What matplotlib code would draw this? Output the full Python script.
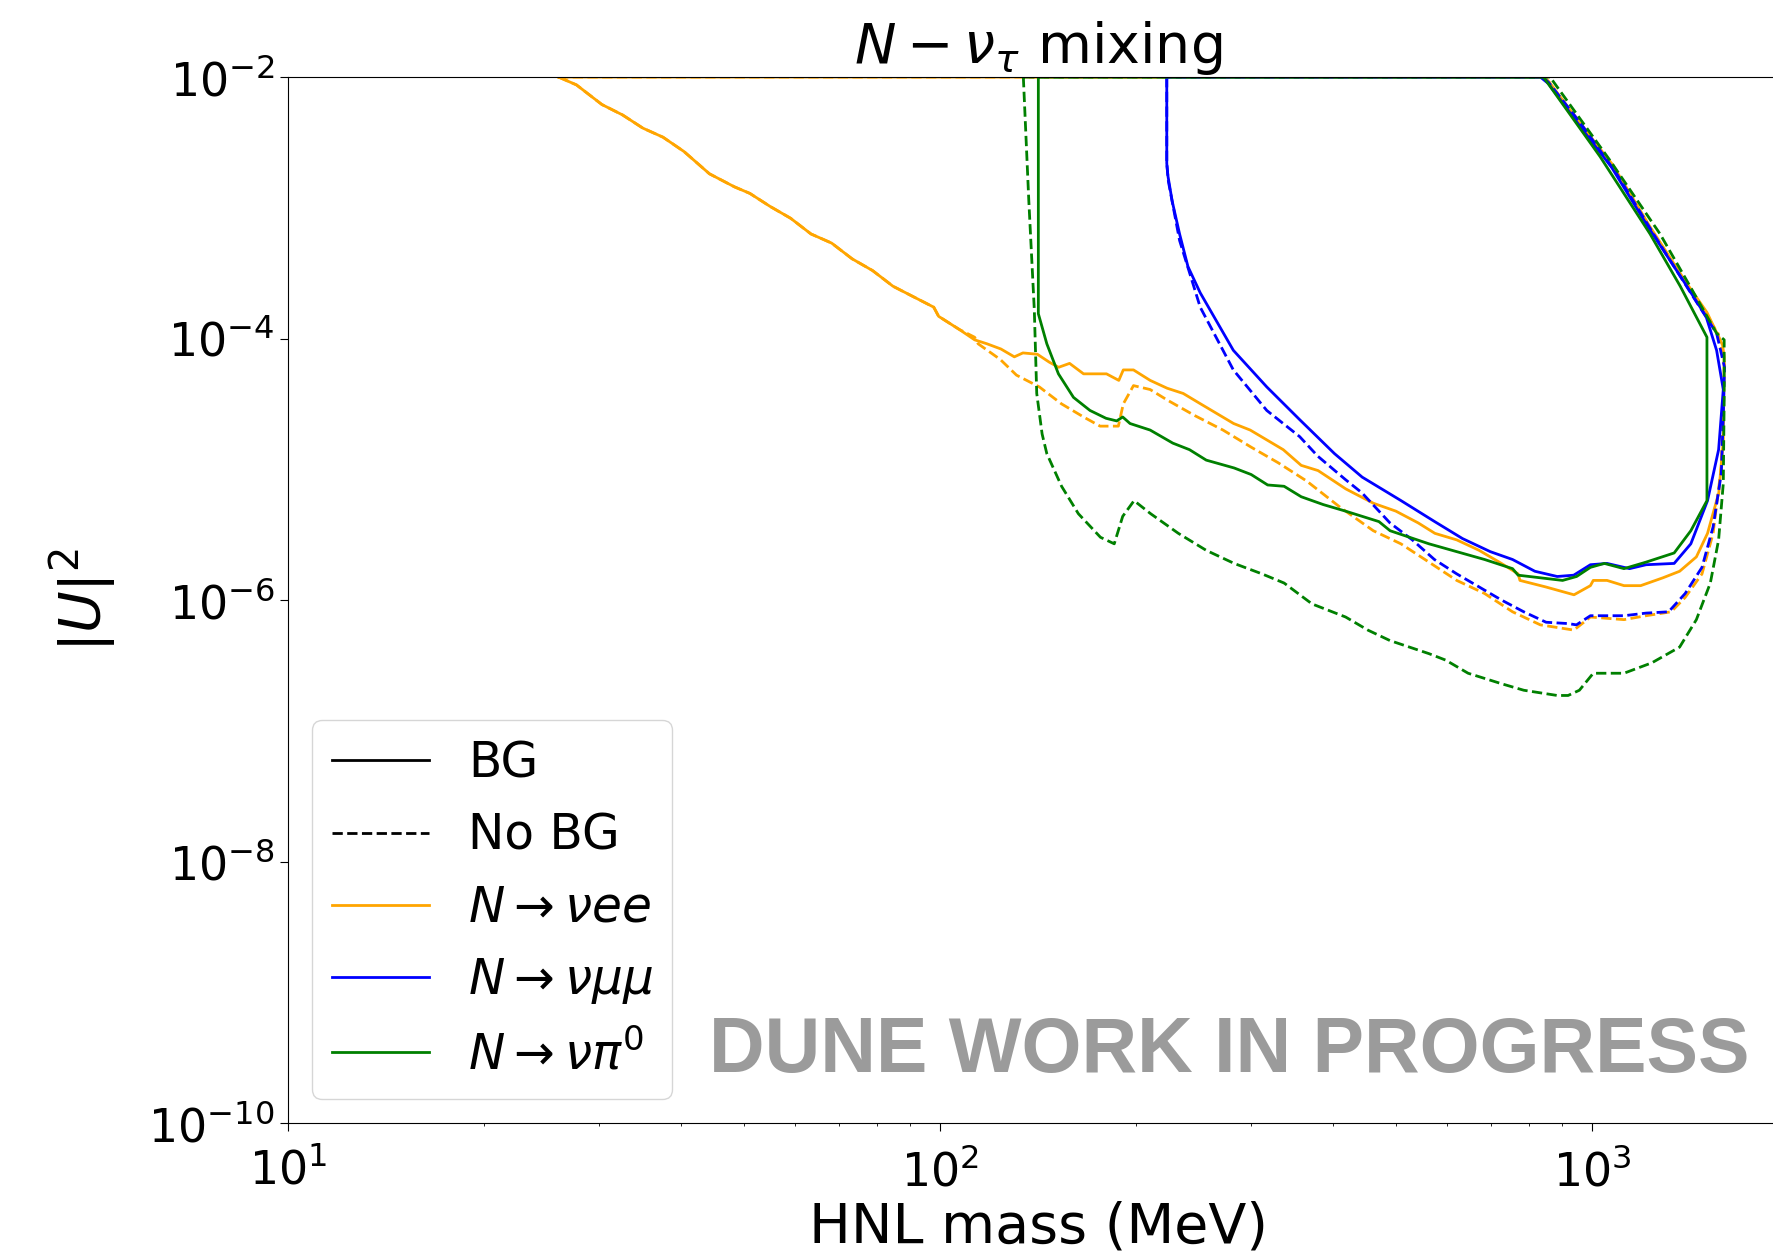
import numpy as np
import matplotlib
matplotlib.use("Agg")
import matplotlib.pyplot as plt
from matplotlib.lines import Line2D
from matplotlib.ticker import NullLocator

# Sensitivity contours for N - nu_tau mixing.
# Mass in MeV, coupling stored as log10 |U|^2; each contour is closed along |U|^2 = 1e-2.

# N -> nu e e, with background
vee_bg_mass = [26.0, 27.7, 30.3, 32.6, 35.0, 37.6, 40.5, 44.3, 48.4, 51.1, 54.9, 59.0, 63.4,
               68.2, 73.3, 78.8, 84.7, 91.0, 97.8, 99.5, 107, 113, 118, 124, 130, 134, 141,
               147, 152, 158, 166, 180, 188, 191, 198, 210, 223, 236, 251, 282, 299, 336,
               358, 380, 419, 462, 500, 541, 574, 620, 671, 726, 770, 775, 849, 938, 994,
               1004, 1054, 1119, 1187, 1284, 1362, 1445, 1503, 1564, 1589, 1594, 1585, 1500,
               1389, 1225, 1075, 960, 860, 845, 26.0]
vee_bg_logu2 = [-2.0, -2.06, -2.21, -2.29, -2.39, -2.46, -2.57, -2.74, -2.84, -2.89, -2.99,
                -3.08, -3.20, -3.27, -3.39, -3.48, -3.60, -3.68, -3.76, -3.83, -3.93, -4.01,
                -4.04, -4.08, -4.14, -4.11, -4.12, -4.18, -4.22, -4.19, -4.27, -4.27, -4.32,
                -4.24, -4.24, -4.32, -4.38, -4.42, -4.50, -4.65, -4.70, -4.85, -4.97, -5.01,
                -5.15, -5.26, -5.32, -5.41, -5.49, -5.54, -5.62, -5.72, -5.80, -5.85, -5.90,
                -5.96, -5.89, -5.85, -5.85, -5.89, -5.89, -5.83, -5.78, -5.67, -5.49, -5.18,
                -4.78, -4.14, -4.05, -3.80, -3.56, -3.14, -2.67, -2.36, -2.04, -2.0, -2.0]

# N -> nu e e, no background
vee_nobg_mass = [26.0, 27.7, 30.3, 32.6, 35.0, 37.6, 40.5, 44.3, 48.4, 51.1, 54.9, 59.0, 63.4,
                 68.2, 73.3, 78.8, 84.7, 91.0, 97.8, 99.5, 107, 113, 114.4, 123.7, 131, 142,
                 153.6, 166, 176, 187.7, 191, 198, 210, 223, 246, 271.6, 299.8, 330, 365,
                 410.6, 461.8, 509, 562, 620, 684, 755, 833, 937.6, 994, 1119, 1210, 1322,
                 1389, 1474, 1533, 1578, 1589, 1596, 1560, 1441, 1242, 1091, 959, 857, 845,
                 26.0]
vee_nobg_logu2 = [-2.0, -2.06, -2.21, -2.29, -2.39, -2.46, -2.57, -2.74, -2.84, -2.89, -2.99,
                  -3.08, -3.20, -3.27, -3.39, -3.48, -3.60, -3.68, -3.76, -3.83, -3.93, -3.99,
                  -4.04, -4.16, -4.28, -4.37, -4.50, -4.60, -4.67, -4.67, -4.50, -4.36, -4.39,
                  -4.47, -4.59, -4.70, -4.83, -4.95, -5.09, -5.29, -5.47, -5.57, -5.71, -5.85,
                  -5.95, -6.09, -6.19, -6.23, -6.13, -6.15, -6.12, -6.09, -5.98, -5.80, -5.49,
                  -4.98, -4.47, -4.20, -3.96, -3.70, -3.20, -2.74, -2.35, -2.04, -2.0, -2.0]

# N -> nu mu mu, with background
vmumu_bg_mass = [222.7, 222.7, 223.5, 227, 233, 240, 250.6, 281.7, 317, 356, 402.6, 444, 509.4,
                 573.5, 632.8, 698, 755, 817, 884, 937, 994, 1054, 1141, 1210, 1336, 1417,
                 1503, 1563, 1589, 1552, 1495, 1389, 1220, 1071, 959, 857, 833, 222.7]
vmumu_bg_logu2 = [-2.0, -2.66, -2.75, -2.95, -3.20, -3.45, -3.65, -4.09, -4.37, -4.62, -4.88,
                  -5.06, -5.24, -5.40, -5.53, -5.63, -5.69, -5.78, -5.82, -5.81, -5.73, -5.72,
                  -5.76, -5.73, -5.72, -5.57, -5.24, -4.85, -4.39, -4.09, -3.83, -3.58, -3.15,
                  -2.69, -2.38, -2.05, -2.0, -2.0]

# N -> nu mu mu, no background
vmumu_nobg_mass = [222.7, 222.7, 224, 233, 250.6, 281.7, 317, 356, 379.6, 418.8, 443.6, 489.7,
                   530, 573, 620, 671, 726, 785.5, 850, 918.7, 946, 994, 1119, 1210, 1310, 1389,
                   1474, 1533, 1578, 1589, 1596, 1552, 1441, 1242, 1091, 959, 857, 840, 222.7]
vmumu_nobg_logu2 = [-2.0, -2.66, -2.80, -3.25, -3.76, -4.24, -4.55, -4.75, -4.90, -5.08, -5.18,
                    -5.41, -5.54, -5.69, -5.80, -5.90, -6.00, -6.09, -6.17, -6.18, -6.19, -6.12,
                    -6.12, -6.10, -6.09, -5.95, -5.75, -5.44, -5.03, -4.60, -4.22, -3.96, -3.71,
                    -3.20, -2.74, -2.35, -2.04, -2.0, -2.0]

# N -> nu pi0, with background
vpi0_bg_mass = [141.5, 141.5, 145.8, 151.9, 160.2, 169.8, 179.7, 186.6, 190.6, 195.6, 210, 227.5,
                241.3, 256, 282.5, 300, 318, 337, 358, 387, 418.6, 471, 490, 562, 620, 684,
                755, 770, 833, 901, 946.7, 994, 1044, 1119, 1210, 1336, 1417, 1500, 1500,
                1365, 1227, 1029, 842, 141.5]
vpi0_bg_logu2 = [-2.0, -3.81, -4.04, -4.27, -4.45, -4.55, -4.61, -4.63, -4.60, -4.65, -4.70,
                 -4.80, -4.85, -4.93, -4.99, -5.04, -5.12, -5.13, -5.21, -5.27, -5.32, -5.40,
                 -5.47, -5.57, -5.63, -5.69, -5.76, -5.81, -5.83, -5.85, -5.82, -5.75, -5.72,
                 -5.76, -5.71, -5.64, -5.47, -5.24, -3.99, -3.60, -3.20, -2.61, -2.0, -2.0]

# N -> nu pi0, no background
vpi0_nobg_mass = [134.2, 136.8, 139.5, 140.7, 143.4, 145.8, 153.6, 163, 176.2, 185, 190.6, 198.4,
                  210.4, 232, 256, 282.5, 311.7, 337, 372, 418.8, 453, 489.7, 562, 596.5, 645.4,
                  726, 785.5, 884, 918.7, 956, 1004, 1119, 1235, 1362, 1445, 1518, 1563, 1589,
                  1594, 1594, 1552, 1413, 1271, 1066, 862, 134.2]
vpi0_nobg_logu2 = [-2.0, -2.94, -3.78, -4.42, -4.73, -4.88, -5.13, -5.34, -5.52, -5.57, -5.36,
                   -5.24, -5.34, -5.49, -5.62, -5.72, -5.80, -5.87, -6.03, -6.13, -6.23, -6.31,
                   -6.41, -6.46, -6.56, -6.64, -6.69, -6.73, -6.73, -6.69, -6.56, -6.56, -6.48,
                   -6.36, -6.15, -5.87, -5.54, -5.11, -4.47, -4.01, -3.96, -3.60, -3.20, -2.64,
                   -2.0, -2.0]

curves = [
    (vee_bg_mass, vee_bg_logu2, "orange", "-"),
    (vee_nobg_mass, vee_nobg_logu2, "orange", "--"),
    (vmumu_bg_mass, vmumu_bg_logu2, "blue", "-"),
    (vmumu_nobg_mass, vmumu_nobg_logu2, "blue", "--"),
    (vpi0_bg_mass, vpi0_bg_logu2, "green", "-"),
    (vpi0_nobg_mass, vpi0_nobg_logu2, "green", "--"),
]

fig = plt.figure(figsize=(17.73, 12.57), dpi=100)
ax = fig.add_axes([0.1624, 0.1066, 0.8463, 0.8321])

for mass, logu2, color, ls in curves:
    ax.plot(mass, 10 ** np.array(logu2), color=color, ls=ls, lw=2)

ax.set_xscale("log")
ax.set_yscale("log")
ax.set_xlim(10, 2000)
ax.set_ylim(1e-10, 1e-2)
ax.set_yticks([1e-10, 1e-8, 1e-6, 1e-4, 1e-2])
ax.yaxis.set_minor_locator(NullLocator())
ax.tick_params(labelsize=33)
ax.tick_params(axis="x", which="major", length=6, pad=13)
ax.tick_params(axis="y", which="major", length=6)

ax.set_title(r"$N-\nu_\tau$ mixing", fontsize=40)
ax.set_xlabel("HNL mass (MeV)", fontsize=40)
ax.set_ylabel(r"$|U|^2$", fontsize=41)
ax.yaxis.set_label_coords(-0.113, 0.5)

handles = [
    Line2D([], [], color="k", ls="-", lw=2),
    Line2D([], [], color="k", ls="--", lw=2),
    Line2D([], [], color="orange", lw=2),
    Line2D([], [], color="blue", lw=2),
    Line2D([], [], color="green", lw=2),
]
labels = ["BG", "No BG", r"$N\rightarrow\nu ee$", r"$N\rightarrow\nu\mu\mu$",
          r"$N\rightarrow\nu\pi^0$"]
ax.legend(handles, labels, loc="lower left", fontsize=35)

fig.text(709 / 1773, 1 - 1072 / 1257, "DUNE WORK IN PROGRESS", fontsize=55.5,
         fontweight="bold", family="Liberation Sans", color="#9b9b9b",
         ha="left", va="baseline")

fig.savefig("out.png", dpi=100)
